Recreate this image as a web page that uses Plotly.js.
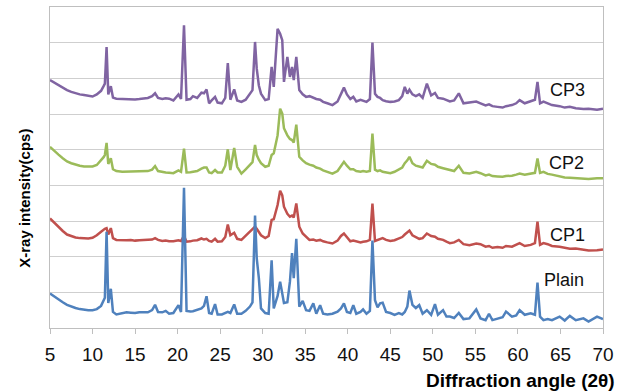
<!DOCTYPE html>
<html>
<head>
<meta charset="utf-8">
<script src="https://cdn.plot.ly/plotly-3.0.1.min.js"></script>
<style>html,body{margin:0;padding:0;background:#fff;}#chart{width:631px;height:392px;}</style>
</head>
<body>
<div id="chart"></div>
<script>
// Diffraction angle (2θ) sampling positions
const angle = [5.0,5.5,6.0,6.5,7.0,7.5,8.0,8.5,9.0,9.5,10.0,10.5,11.0,11.3,11.45,11.65,11.85,12.15,12.4,12.8,13.5,14.0,14.5,15.0,15.5,16.0,16.5,17.0,17.35,17.7,18.2,18.6,19.0,19.5,20.1,20.4,20.75,21.05,21.5,21.8,22.3,22.8,23.1,23.4,23.7,24.0,24.4,24.7,25.2,25.6,25.9,26.2,26.65,27.0,27.5,28.0,28.5,28.8,29.1,29.3,29.55,29.8,30.3,30.7,31.05,31.3,31.75,32.05,32.3,32.5,32.9,33.2,33.45,33.65,33.95,34.3,34.7,35.1,35.5,35.95,36.3,36.75,37.1,37.6,38.2,38.8,39.2,39.55,39.9,40.3,40.65,41.0,41.5,41.8,42.2,42.6,42.9,43.2,43.5,43.8,44.1,44.5,45.0,45.5,46.0,46.4,46.7,47.0,47.25,47.6,48.0,48.4,48.8,49.3,49.8,50.25,50.6,51.2,51.6,52.0,52.5,53.05,53.6,54.3,55.1,55.6,56.2,56.6,57.0,57.6,58.2,58.6,59.3,59.8,60.2,60.8,61.5,62.0,62.3,62.6,63.0,63.5,64.0,64.9,65.5,66.1,66.8,67.7,68.3,69.3,70.0];

// Offset intensities (plot units)
const plain = [0.97,0.88,0.80,0.72,0.65,0.60,0.56,0.53,0.51,0.50,0.50,0.53,0.62,0.75,0.85,2.70,0.70,1.10,0.45,0.38,0.42,0.44,0.43,0.42,0.44,0.43,0.44,0.50,0.65,0.45,0.44,0.48,0.40,0.42,0.64,0.45,3.93,0.48,0.46,0.47,0.50,0.55,0.62,0.89,0.42,0.40,0.67,0.38,0.38,0.42,0.45,0.42,0.66,0.40,0.40,0.48,0.60,0.72,3.15,1.95,1.40,0.55,0.42,0.40,1.90,0.55,0.90,1.30,0.95,0.70,0.72,1.30,2.10,1.40,2.50,0.60,0.76,0.50,0.48,0.69,0.40,0.64,0.40,0.38,0.40,0.46,0.55,0.69,0.45,0.42,0.64,0.40,0.45,0.52,0.40,0.48,2.45,0.78,0.58,0.69,0.71,0.45,0.42,0.37,0.42,0.38,0.45,0.60,1.05,0.65,0.56,0.64,0.40,0.50,0.37,0.67,0.37,0.50,0.32,0.32,0.28,0.42,0.25,0.27,0.52,0.27,0.22,0.40,0.22,0.27,0.30,0.46,0.32,0.35,0.50,0.37,0.41,0.37,1.27,0.32,0.22,0.25,0.22,0.32,0.21,0.34,0.22,0.27,0.18,0.32,0.25];

const cp1 = [3.07,2.95,2.84,2.72,2.62,2.57,2.54,2.52,2.51,2.51,2.53,2.60,2.70,2.77,2.78,2.80,2.62,2.80,2.52,2.47,2.46,2.46,2.47,2.45,2.46,2.46,2.47,2.48,2.52,2.47,2.44,2.45,2.43,2.43,2.46,2.44,2.58,2.42,2.43,2.45,2.46,2.51,2.48,2.50,2.44,2.42,2.50,2.42,2.43,2.55,2.90,2.60,2.67,2.50,2.47,2.58,2.68,2.75,2.84,2.78,2.70,2.60,2.52,2.58,3.03,3.05,3.45,3.85,3.72,3.40,3.20,3.12,3.15,3.10,3.49,2.84,2.65,2.55,2.47,2.48,2.45,2.47,2.43,2.40,2.37,2.45,2.58,2.65,2.55,2.43,2.45,2.43,2.40,2.42,2.43,2.47,3.49,2.44,2.46,2.50,2.52,2.47,2.44,2.46,2.52,2.55,2.62,2.68,2.73,2.60,2.55,2.50,2.52,2.65,2.58,2.56,2.50,2.47,2.42,2.38,2.40,2.47,2.35,2.32,2.37,2.35,2.28,2.30,2.25,2.27,2.25,2.30,2.28,2.33,2.38,2.30,2.33,2.38,2.98,2.33,2.38,2.35,2.30,2.28,2.26,2.22,2.23,2.20,2.17,2.18,2.20];

const cp2 = [5.08,4.96,4.86,4.76,4.67,4.62,4.58,4.55,4.53,4.52,4.53,4.57,4.70,4.79,4.85,5.19,4.60,4.76,4.45,4.40,4.38,4.38,4.39,4.38,4.38,4.39,4.40,4.44,4.54,4.40,4.37,4.36,4.35,4.34,4.42,4.38,5.03,4.36,4.37,4.38,4.40,4.47,4.50,4.50,4.36,4.34,4.43,4.36,4.36,4.55,5.01,4.43,5.05,4.52,4.33,4.45,4.58,4.65,5.13,4.85,4.72,4.62,4.52,4.55,4.85,4.90,5.40,6.15,6.01,5.60,5.40,5.30,5.27,5.20,5.70,4.80,4.70,4.62,4.58,4.55,4.50,4.47,4.42,4.38,4.33,4.40,4.55,4.66,4.55,4.45,4.45,4.40,4.38,4.40,4.38,4.40,5.45,4.44,4.40,4.42,4.38,4.36,4.34,4.38,4.45,4.50,4.62,4.70,4.80,4.62,4.55,4.52,4.50,4.69,4.60,4.58,4.52,4.48,4.45,4.42,4.40,4.55,4.35,4.33,4.38,4.34,4.28,4.30,4.26,4.25,4.24,4.26,4.27,4.30,4.33,4.30,4.32,4.35,4.75,4.35,4.38,4.32,4.30,4.25,4.22,4.21,4.20,4.19,4.18,4.20,4.20];

const cp3 = [6.95,6.88,6.80,6.74,6.67,6.62,6.58,6.55,6.53,6.50,6.49,6.55,6.65,6.78,6.85,7.88,6.55,6.78,6.46,6.43,6.42,6.43,6.42,6.41,6.42,6.43,6.45,6.50,6.58,6.45,6.42,6.44,6.43,6.38,6.55,6.42,8.49,6.40,6.42,6.50,6.45,6.60,6.58,6.69,6.30,6.38,6.48,6.32,6.30,6.45,7.43,6.40,6.69,6.38,6.34,6.40,6.55,6.67,8.02,7.27,6.80,6.57,6.39,6.42,7.32,6.76,8.39,8.25,8.07,6.90,7.60,7.04,7.32,6.95,7.60,6.67,6.55,6.48,6.50,6.45,6.42,6.40,6.34,6.30,6.25,6.35,6.55,6.74,6.55,6.42,6.48,6.35,6.40,6.38,6.34,6.42,8.00,6.57,6.48,6.45,6.39,6.36,6.34,6.35,6.39,6.50,6.76,6.57,6.68,6.55,6.50,6.55,6.45,6.85,6.52,6.59,6.45,6.43,6.38,6.35,6.38,6.58,6.30,6.32,6.35,6.30,6.24,6.27,6.22,6.20,6.18,6.22,6.25,6.30,6.39,6.30,6.35,6.40,6.90,6.30,6.35,6.30,6.25,6.22,6.18,6.20,6.16,6.14,6.15,6.12,6.15];

const seriesNames = ['CP3','CP2','CP1','Plain'];
const seriesData = [cp3, cp2, cp1, plain];
const seriesColors = ['#8064A2','#9BBB59','#C0504D','#4F81BD'];
const labelX = [63.5, 63.4, 63.5, 62.8];
const labelY = [6.67, 4.62, 2.6, 1.34];

const font = '"Liberation Sans", Arial, sans-serif';

const traces = seriesData.map((ys, i) => ({
  x: angle, y: ys, type: 'scatter', mode: 'lines', name: seriesNames[i],
  line: {color: seriesColors[i], width: 2.5}, hoverinfo: 'skip'
}));

const annotations = seriesNames.map((n, i) => ({
  x: labelX[i], y: labelY[i], xref: 'x', yref: 'y', text: n, showarrow: false,
  xanchor: 'left', yanchor: 'middle', font: {family: font, size: 18, color: '#111'}
}));
annotations.push({
  xref: 'paper', yref: 'paper', x: -0.045, y: 0.403, text: 'X-ray intensity(cps)', showarrow: false,
  textangle: -90, xanchor: 'center', yanchor: 'middle', font: {family: font, size: 15, color: '#000', weight: 'bold'}
});
annotations.push({
  xref: 'paper', yref: 'paper', x: 1.025, y: -0.162, text: '<b>Diffraction angle (2θ)</b>', showarrow: false,
  xanchor: 'right', yanchor: 'middle', font: {family: font, size: 19, color: '#000'}
});
annotations[4].text = '<b>X-ray intensity(cps)</b>';

const layout = {
  width: 631, height: 392,
  margin: {l: 50, r: 28, t: 7, b: 64},
  paper_bgcolor: '#fff', plot_bgcolor: '#fff',
  showlegend: false,
  font: {family: font, color: '#111'},
  xaxis: {
    range: [5, 70], tick0: 5, dtick: 5, ticks: 'outside', ticklen: 5, tickcolor: '#bfbfbf',
    showline: true, linecolor: '#bfbfbf', linewidth: 1, mirror: true,
    showgrid: false, zeroline: false, tickfont: {family: font, size: 19, color: '#111'},
    ticklabelstandoff: 4
  },
  yaxis: {
    range: [0, 9], dtick: 1, tick0: 0, showticklabels: false, ticks: '',
    showgrid: true, gridcolor: '#cfcfcf', gridwidth: 1,
    showline: true, linecolor: '#bfbfbf', linewidth: 1, mirror: true, zeroline: false
  },
  annotations: annotations
};

Plotly.newPlot('chart', traces, layout, {displayModeBar: false, staticPlot: true});
</script>
</body>
</html>
